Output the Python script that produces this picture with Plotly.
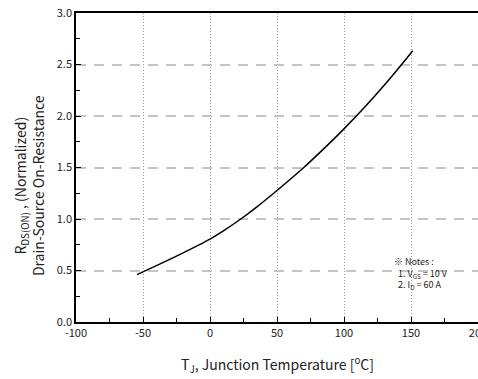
import plotly.graph_objects as go

temp = [-54.5, -40, -25, -10, 0, 10, 23, 35, 50, 70, 85, 100, 115, 130, 143, 151.3]
rds = [0.46, 0.547, 0.640, 0.737, 0.805, 0.885, 1.0, 1.118, 1.277, 1.50, 1.683, 1.875, 2.079, 2.298, 2.50, 2.634]

x_ticks = [-100, -50, 0, 50, 100, 150, 200]
y_ticks = [0.0, 0.5, 1.0, 1.5, 2.0, 2.5, 3.0]

FONT = "Noto Sans CJK KR"

fig = go.Figure()
fig.add_trace(go.Scatter(x=temp, y=rds, mode="lines",
                         line=dict(color="black", width=1.5, shape="spline", smoothing=0.8),
                         showlegend=False, hoverinfo="skip"))

fig.update_layout(
    width=478, height=379,
    margin=dict(l=76, r=0, t=13, b=57, autoexpand=False),
    paper_bgcolor="white", plot_bgcolor="white",
    font=dict(family=FONT, color="#222"),
    xaxis=dict(range=[-100, 200], tickvals=x_ticks,
               ticktext=[str(v) for v in x_ticks],
               ticklabeloverflow="allow", automargin=False,
               showline=True, linecolor="black", linewidth=1.5, mirror=True,
               ticks="inside", ticklen=5, tickcolor="black", tickwidth=1,
               minor=dict(dtick=25, ticks="inside", ticklen=4, tickcolor="black", showgrid=False),
               showgrid=True, gridcolor="#999", gridwidth=1, griddash="1px,2px",
               zeroline=False, tickfont=dict(size=11, family=FONT, color="#222")),
    yaxis=dict(range=[0, 3], tickvals=y_ticks,
               ticktext=["%.1f" % v for v in y_ticks],
               automargin=False,
               showline=True, linecolor="black", linewidth=1.5, mirror=False,
               ticks="inside", ticklen=5, tickcolor="black", tickwidth=1,
               minor=dict(dtick=0.25, ticks="inside", ticklen=4, tickcolor="black", showgrid=False),
               showgrid=True, gridcolor="#c4c4c4", gridwidth=1.5, griddash="10px,8px",
               zeroline=False, tickfont=dict(size=11, family=FONT, color="#222")),
)

fig.add_annotation(xref="paper", yref="paper", x=0.502, y=-0.139,
                   text="T<sub>J</sub>, Junction Temperature [<sup>o</sup>C]",
                   showarrow=False, xanchor="center", yanchor="middle",
                   font=dict(size=14, family=FONT, color="#222"))
fig.add_annotation(xref="paper", yref="paper", x=-0.117, y=0.443,
                   text="R<sub>DS(ON)</sub> , (Normalized)<br>Drain-Source On-Resistance",
                   textangle=-90, showarrow=False, xanchor="center", yanchor="middle",
                   font=dict(size=14, family=FONT, color="#222"))
fig.add_annotation(xref="x", yref="y", x=135.5, y=0.47,
                   text="※ Notes :<br>  1. V<sub>GS</sub> = 10 V<br>  2. I<sub>D</sub> = 60 A",
                   align="left", showarrow=False, xanchor="left", yanchor="middle",
                   font=dict(size=9, family=FONT, color="#222"))

fig.write_html("out.html")
